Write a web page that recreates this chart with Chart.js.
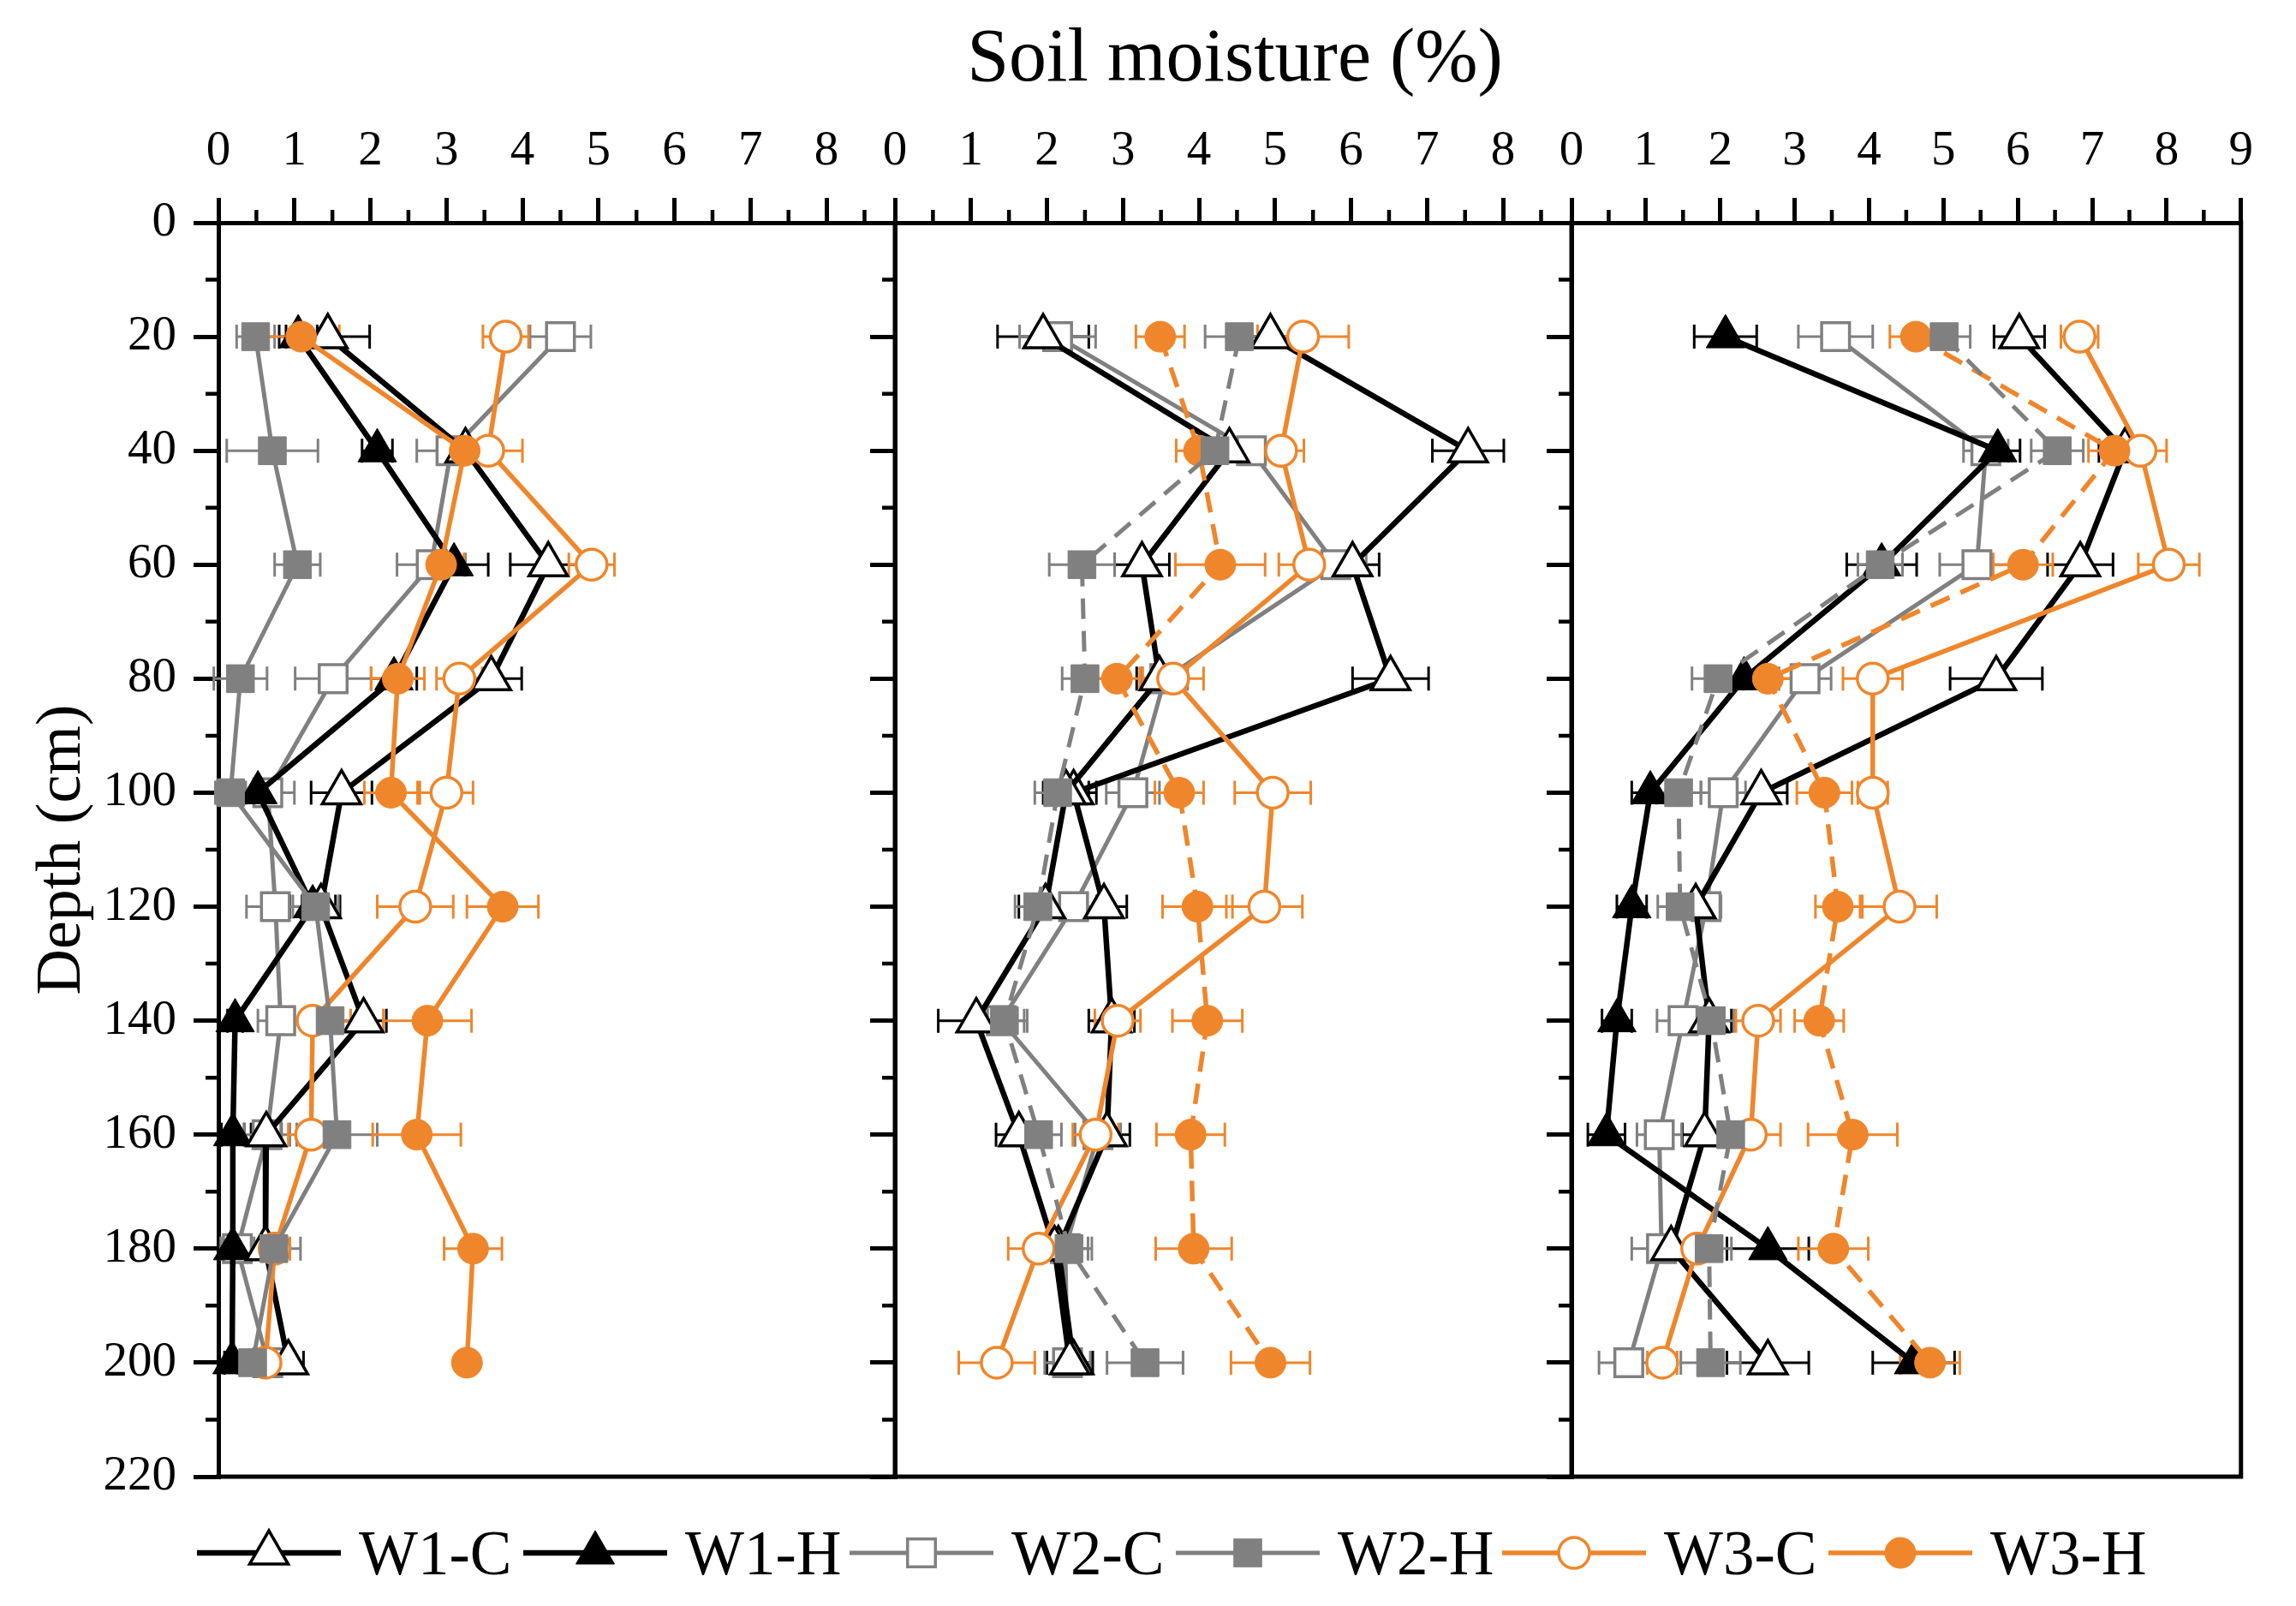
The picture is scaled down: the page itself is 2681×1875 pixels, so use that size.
<!DOCTYPE html>
<html>
<head>
<meta charset="utf-8">
<title>Soil moisture profiles</title>
<script src="https://cdn.jsdelivr.net/npm/chart.js@4.4.1/dist/chart.umd.min.js"></script>
<style>
  html, body { margin: 0; padding: 0; background: #fff; }
  #page { position: relative; width: 2681px; height: 1875px; overflow: hidden; background: #fff;
          font-family: "Liberation Serif", "Times New Roman", serif; color: #000; }
  .panel { position: absolute; top: 0; }
  #title { position: absolute; top: 21px; left: 1442px; transform: translateX(-50%);
           font-size: 88px; line-height: 88px; white-space: nowrap; }
  #ylabel { position: absolute; left: 68px; top: 992px; transform: translate(-50%, -50%) rotate(-90deg);
            font-size: 74px; line-height: 74px; white-space: nowrap; }
  .legend-mark { position: absolute; top: 1783px; }
  .legend-text { position: absolute; top: 1777px; font-size: 73px; line-height: 73px; white-space: nowrap; }
</style>
</head>
<body>
<div id="page">
  <div id="title">Soil moisture (%)</div>
  <div id="ylabel">Depth (cm)</div>
  <canvas id="panel1" class="panel"></canvas>
  <canvas id="panel2" class="panel"></canvas>
  <canvas id="panel3" class="panel"></canvas>
  <div id="legend"></div>
</div>

<script>
// depths (cm) shared by every series
const depths = [20, 40, 60, 80, 100, 120, 140, 160, 180, 200];
const seriesNames = ['W1-C', 'W1-H', 'W2-C', 'W2-H', 'W3-C', 'W3-H'];
const depthTicks = [0, 220, 20];

// panel 1 (soil moisture %, one value per depth)
const p1W1C = [1.44, 3.25, 4.34, 3.59, 1.62, 1.35, 1.91, 0.63, 0.62, 0.92];
const p1W1H = [1.05, 2.09, 3.10, 2.31, 0.52, 1.24, 0.22, 0.19, 0.19, 0.18];
const p1W2C = [4.50, 3.06, 2.80, 1.51, 0.65, 0.75, 0.82, 0.64, 0.25, 0.65];
const p1W2H = [0.49, 0.71, 1.04, 0.29, 0.16, 1.28, 1.47, 1.56, 0.73, 0.45];
const p1W3C = [3.78, 3.55, 4.91, 3.17, 3.00, 2.59, 1.24, 1.22, 0.74, 0.62];
const p1W3H = [1.09, 3.24, 2.93, 2.36, 2.27, 3.74, 2.75, 2.61, 3.35, 3.27];

// panel 2
const p2W1C = [1.95, 4.40, 3.25, 3.48, 2.25, 1.98, 1.07, 1.63, 2.10, 2.30];
const p2W1H = [4.94, 7.54, 6.02, 6.52, 2.35, 2.75, 2.85, 2.79, 2.15, 2.35];
const p2W2C = [2.14, 4.69, 5.80, 3.55, 3.13, 2.35, 1.40, 2.67, 2.24, 2.27];
const p2W2H = [4.53, 4.21, 2.46, 2.50, 2.14, 1.88, 1.44, 1.89, 2.29, 3.29];
const p2W3C = [5.37, 5.08, 5.45, 3.66, 4.97, 4.86, 2.93, 2.64, 1.89, 1.34];
const p2W3H = [3.49, 4.00, 4.28, 2.92, 3.74, 3.98, 4.11, 3.89, 3.93, 4.94];

// panel 3
const p3W1C = [6.02, 7.44, 6.84, 5.71, 2.55, 1.67, 1.85, 1.79, 1.34, 2.64];
const p3W1H = [2.07, 5.73, 4.17, 2.32, 1.06, 0.81, 0.61, 0.47, 2.64, 4.60];
const p3W2C = [3.55, 5.57, 5.45, 3.14, 2.04, 1.81, 1.50, 1.18, 1.21, 0.77];
const p3W2H = [5.01, 6.53, 4.15, 1.97, 1.44, 1.46, 1.88, 2.14, 1.85, 1.87];
const p3W3C = [6.83, 7.65, 8.03, 4.05, 4.05, 4.41, 2.51, 2.41, 1.69, 1.22];
const p3W3H = [4.63, 7.30, 6.07, 2.64, 3.40, 3.58, 3.33, 3.78, 3.52, 4.82];

// error bar half widths
const e1W1C = [0.55, 0.30, 0.50, 0.40, 0.40, 0.25, 0.30, 0.20, 0.20, 0.20];
const e1W1H = [0.25, 0.20, 0.45, 0.30, 0.20, 0.30, 0.10, 0.15, 0.10, 0.10];
const e1W2C = [0.40, 0.45, 0.45, 0.50, 0.35, 0.38, 0.30, 0.30, 0.22, 0.30];
const e1W2H = [0.25, 0.60, 0.30, 0.35, 0.20, 0.30, 0.35, 0.53, 0.35, 0.20];
const e1W3C = [0.30, 0.45, 0.30, 0.30, 0.35, 0.50, 0.50, 0.30, 0.20, 0.20];
const e1W3H = [0.50, 0.30, 0.30, 0.35, 0.35, 0.47, 0.58, 0.58, 0.38, 0.10];

const e2W1C = [0.60, 0.30, 0.36, 0.30, 0.30, 0.35, 0.50, 0.30, 0.30, 0.30];
const e2W1H = [0.30, 0.47, 0.35, 0.50, 0.30, 0.30, 0.30, 0.30, 0.30, 0.25];
const e2W2C = [0.50, 0.30, 0.40, 0.30, 0.35, 0.30, 0.30, 0.30, 0.30, 0.30];
const e2W2H = [0.45, 0.30, 0.43, 0.30, 0.30, 0.30, 0.30, 0.30, 0.30, 0.50];
const e2W3C = [0.60, 0.30, 0.40, 0.40, 0.50, 0.50, 0.30, 0.30, 0.40, 0.50];
const e2W3H = [0.32, 0.30, 0.59, 0.30, 0.32, 0.46, 0.46, 0.45, 0.50, 0.52];

const e3W1C = [0.34, 0.35, 0.44, 0.62, 0.35, 0.30, 0.30, 0.30, 0.30, 0.55];
const e3W1H = [0.42, 0.30, 0.47, 0.30, 0.25, 0.20, 0.20, 0.25, 0.55, 0.55];
const e3W2C = [0.50, 0.30, 0.50, 0.35, 0.30, 0.20, 0.35, 0.30, 0.40, 0.40];
const e3W2H = [0.35, 0.35, 0.30, 0.35, 0.30, 0.30, 0.30, 0.30, 0.30, 0.40];
const e3W3C = [0.25, 0.35, 0.41, 0.40, 0.20, 0.50, 0.30, 0.40, 0.30, 0.20];
const e3W3H = [0.35, 0.35, 0.40, 0.35, 0.37, 0.30, 0.33, 0.60, 0.47, 0.40];

const panelValues = [
  [p1W1C, p1W1H, p1W2C, p1W2H, p1W3C, p1W3H],
  [p2W1C, p2W1H, p2W2C, p2W2H, p2W3C, p2W3H],
  [p3W1C, p3W1H, p3W2C, p3W2H, p3W3C, p3W3H]
];
const panelErrors = [
  [e1W1C, e1W1H, e1W2C, e1W2H, e1W3C, e1W3H],
  [e2W1C, e2W1H, e2W2C, e2W2H, e2W3C, e2W3H],
  [e3W1C, e3W1H, e3W2C, e3W2H, e3W3C, e3W3H]
];
const xMax = [8.9, 8.9, 9];

// look of each series (layer: 0 is drawn on top)
const BLACK = '#000000', GRAY = '#808080', ORANGE = '#ef862b';
const styles = [
  { color: BLACK, shape: 'triangle', open: true, width: 6.5, layer: 3 },
  { color: BLACK, shape: 'triangle', open: false, width: 6.5, layer: 4 },
  { color: GRAY, shape: 'rect', open: true, width: 5, layer: 5 },
  { color: GRAY, shape: 'rect', open: false, width: 5, layer: 0 },
  { color: ORANGE, shape: 'circle', open: true, width: 5.5, layer: 2 },
  { color: ORANGE, shape: 'circle', open: false, width: 5.5, layer: 1 }
];
const radius = { triangle: 26, rect: 23, circle: 18 };
// dashed H lines in panels 2 and 3; panel 2 plots W1-H with open triangles
const dashed = [[], [3, 5], [3, 5]];
const openOverride = [[], [1], []];

// panel placement on the page (chart area left/right, top, bottom)
const areaLeft = [255, 1045, 1835];
const areaRight = [1045, 1835, 2621];
const areaTop = 260, areaBottom = 1724;

const tickFont = { family: 'Liberation Serif', size: 57 };

const errorBars = {
  id: 'errorBars',
  beforeDatasetsDraw(chart) {
    const ctx = chart.ctx, xs = chart.scales.x;
    chart.data.datasets.forEach((ds, i) => {
      const meta = chart.getDatasetMeta(i);
      ctx.save();
      ctx.strokeStyle = ds.borderColor;
      ctx.lineWidth = 3;
      ctx.setLineDash([]);
      meta.data.forEach((pt, j) => {
        const v = ds.data[j].x, e = ds.errors[j];
        const x0 = xs.getPixelForValue(v - e), x1 = xs.getPixelForValue(v + e);
        ctx.beginPath();
        ctx.moveTo(x0, pt.y); ctx.lineTo(x1, pt.y);
        ctx.moveTo(x0, pt.y - 14); ctx.lineTo(x0, pt.y + 14);
        ctx.moveTo(x1, pt.y - 14); ctx.lineTo(x1, pt.y + 14);
        ctx.stroke();
      });
      ctx.restore();
    });
  }
};

// right/bottom frame lines and the half-step minor ticks
const frame = {
  id: 'frame',
  afterDraw(chart) {
    const { ctx, chartArea: a } = chart;
    const xs = chart.scales.x, ys = chart.scales.y;
    ctx.save();
    ctx.strokeStyle = '#000';
    ctx.lineWidth = 5;
    ctx.lineCap = 'square';
    ctx.beginPath();
    ctx.moveTo(a.right, a.top); ctx.lineTo(a.right, a.bottom); ctx.lineTo(a.left, a.bottom);
    ctx.stroke();
    ctx.lineCap = 'butt';
    ctx.lineWidth = 4.5;
    ctx.beginPath();
    for (let v = 0.5; v < xs.max; v += 1) {
      const px = xs.getPixelForValue(v);
      ctx.moveTo(px, a.top); ctx.lineTo(px, a.top - 15);
    }
    for (let d = 10; d < ys.max; d += 20) {
      const py = ys.getPixelForValue(d);
      ctx.moveTo(a.left, py); ctx.lineTo(a.left - 15, py);
    }
    ctx.stroke();
    ctx.restore();
  }
};

function buildDatasets(p) {
  return seriesNames.map((name, i) => {
    const st = styles[i];
    const open = st.open || openOverride[p].includes(i);
    return {
      label: name,
      data: depths.map((d, j) => ({ x: panelValues[p][i][j], y: d })),
      errors: panelErrors[p][i],
      showLine: true,
      borderColor: st.color,
      borderWidth: st.width,
      borderDash: dashed[p].includes(i) ? [24, 14] : [],
      pointStyle: st.shape,
      pointRadius: radius[st.shape],
      pointHoverRadius: radius[st.shape],
      pointBackgroundColor: open ? '#ffffff' : st.color,
      pointBorderColor: st.color,
      pointBorderWidth: open ? 3.5 : 1,
      order: st.layer,
      clip: false
    };
  });
}

function makePanel(p) {
  const padL = p === 0 ? 255 : 40;
  const padR = 30, padB = 100;
  const canvas = document.getElementById('panel' + (p + 1));
  const w = padL + (areaRight[p] - areaLeft[p]) + padR;
  const h = areaBottom + padB;
  canvas.width = w; canvas.height = h;
  canvas.style.left = (areaLeft[p] - padL) + 'px';
  canvas.style.width = w + 'px'; canvas.style.height = h + 'px';

  return new Chart(canvas.getContext('2d'), {
    type: 'scatter',
    data: { datasets: buildDatasets(p) },
    options: {
      responsive: false,
      animation: false,
      devicePixelRatio: 1,
      layout: { padding: { left: 0, top: 0, right: padR, bottom: padB } },
      plugins: { legend: { display: false }, tooltip: { enabled: false } },
      scales: {
        x: {
          type: 'linear', position: 'top', min: 0, max: xMax[p],
          ticks: { stepSize: 1, includeBounds: false, font: tickFont, color: '#000', padding: 20, maxRotation: 0 },
          grid: { drawOnChartArea: false, tickLength: 29, tickWidth: 5, lineWidth: 5, tickColor: '#000', color: '#000' },
          border: { display: true, width: 5, color: '#000' },
          afterFit: s => { s.height = areaTop; }
        },
        y: {
          type: 'linear', position: 'left', reverse: true,
          min: depthTicks[0], max: depthTicks[1],
          ticks: { stepSize: depthTicks[2], display: p === 0, font: tickFont, color: '#000', padding: 20 },
          grid: { drawOnChartArea: false, tickLength: 29, tickWidth: 5, lineWidth: 5, tickColor: '#000', color: '#000' },
          border: { display: true, width: 5, color: '#000' },
          afterFit: s => { s.width = padL; }
        }
      }
    },
    plugins: [errorBars, frame]
  });
}

[0, 1, 2].forEach(makePanel);

// legend: line + marker + name
const legend = document.getElementById('legend');
const NS = 'http://www.w3.org/2000/svg';
seriesNames.forEach((name, i) => {
  const st = styles[i];
  const left = 230 + i * 381;
  const svg = document.createElementNS(NS, 'svg');
  svg.setAttribute('width', 168); svg.setAttribute('height', 60);
  svg.setAttribute('class', 'legend-mark');
  svg.style.left = left + 'px';
  const line = document.createElementNS(NS, 'line');
  line.setAttribute('x1', 0); line.setAttribute('x2', 168);
  line.setAttribute('y1', 30); line.setAttribute('y2', 30);
  line.setAttribute('stroke', st.color); line.setAttribute('stroke-width', st.width);
  svg.appendChild(line);
  let mark;
  const r = radius[st.shape];
  if (st.shape === 'triangle') {
    mark = document.createElementNS(NS, 'polygon');
    const dx = r * Math.sqrt(3) / 2;
    mark.setAttribute('points', `84,${30 - r} ${84 + dx},${30 + r / 2} ${84 - dx},${30 + r / 2}`);
  } else if (st.shape === 'rect') {
    mark = document.createElementNS(NS, 'rect');
    const s = r * Math.SQRT1_2;
    mark.setAttribute('x', 84 - s); mark.setAttribute('y', 30 - s);
    mark.setAttribute('width', 2 * s); mark.setAttribute('height', 2 * s);
  } else {
    mark = document.createElementNS(NS, 'circle');
    mark.setAttribute('cx', 84); mark.setAttribute('cy', 30); mark.setAttribute('r', r);
  }
  mark.setAttribute('fill', st.open ? '#ffffff' : st.color);
  mark.setAttribute('stroke', st.color);
  mark.setAttribute('stroke-width', st.open ? 3.5 : 1);
  svg.appendChild(mark);
  legend.appendChild(svg);

  const txt = document.createElement('div');
  txt.className = 'legend-text';
  txt.style.left = (left + 189) + 'px';
  txt.textContent = name;
  legend.appendChild(txt);
});
</script>
</body>
</html>
